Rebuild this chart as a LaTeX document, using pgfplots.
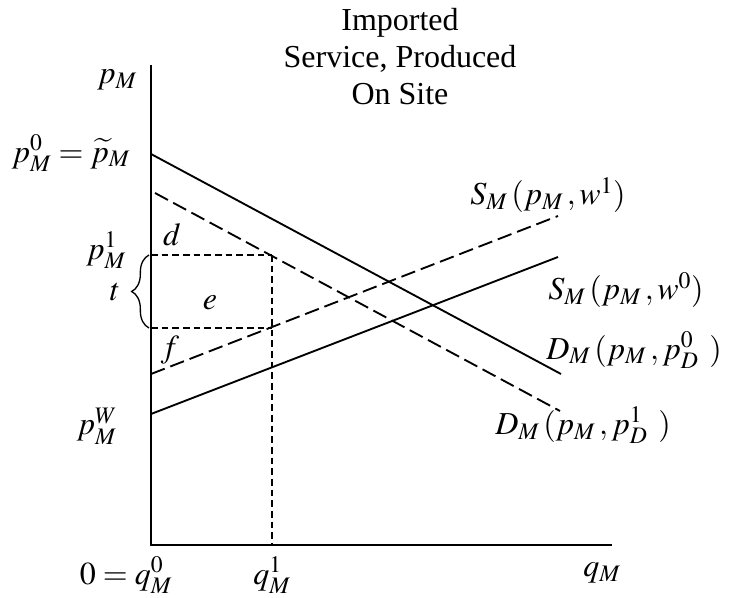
\documentclass[border=0pt]{standalone}
\usepackage{mathptmx}
\usepackage[no-math]{fontspec}
\setmainfont{Liberation Serif}
\usepackage{pgfplots}
\pgfplotsset{compat=1.18}
\usetikzlibrary{decorations.pathreplacing}
\tikzset{lab/.style={font=\fontsize{24}{28}\selectfont, inner sep=0pt}}

% 1 px of the reference = 0.75pt
\begin{document}
\begin{tikzpicture}
\path[use as bounding box] (0,0) rectangle (557.25pt,448.5pt);
\begin{axis}[
  at={(0,0)}, anchor=south west,
  scale only axis, width=557.25pt, height=448.5pt,
  xmin=0, xmax=743, ymin=0, ymax=598, y dir=reverse,
  hide axis, clip=false,
]
% axes
\addplot[black, line width=1.8pt] coordinates {(151,65)(151,545)(612,545)};
% demand curves
\addplot[black, line width=1.4pt] coordinates {(151,154)(561,374)};
\addplot[black, line width=1.4pt, dash pattern=on 11pt off 4.5pt] coordinates {(155,193)(560,411)};
% supply curves
\addplot[black, line width=1.4pt] coordinates {(151,414)(558,257)};
\addplot[black, line width=1.4pt, dash pattern=on 11pt off 4.5pt] coordinates {(151,374)(558,216)};
% price / quantity guides
\addplot[black, line width=1.4pt, dash pattern=on 5pt off 3pt] coordinates {(151,255)(272,255)};
\addplot[black, line width=1.4pt, dash pattern=on 5pt off 3pt] coordinates {(151,328)(272,328)};
\addplot[black, line width=1.4pt, dash pattern=on 5pt off 3pt] coordinates {(272,255)(272,545)};

\draw[line width=1pt, decorate, decoration={brace, amplitude=13pt}]
  (axis cs:149,328) -- (axis cs:149,255);

\node[align=center, font=\fontsize{24}{27.75}\selectfont] at (axis cs:400,57)
  {Imported\\Service, Produced\\On Site};

\node[lab] at (axis cs:117,80) {$p_M$};
\node[lab] at (axis cs:71,153) {$p_M^0=\widetilde{p}_M$};
\node[lab] at (axis cs:106,250) {$p_M^1$};
\node[lab] at (axis cs:97,426) {$p_M^W$};
\node[lab] at (axis cs:172,235) {$d$};
\node[lab] at (axis cs:115,292) {$t$};
\node[lab] at (axis cs:210,303) {$e$};
\node[lab] at (axis cs:170,350) {$f$};
\node[lab] at (axis cs:126,575) {$0=q_M^0$};
\node[lab] at (axis cs:272,575) {$q_M^1$};
\node[lab] at (axis cs:602,573) {$q_M$};
\node[lab] at (axis cs:548,195) {$S_M\,(p_M\,,w^1)$};
\node[lab] at (axis cs:626,290) {$S_M\,(p_M\,,w^0)$};
\node[lab] at (axis cs:634,350) {$D_M\,(p_M\,,p_D^0\;\,)$};
\node[lab] at (axis cs:583,425) {$D_M\,(p_M\,,p_D^1\;\,)$};
\end{axis}
\end{tikzpicture}
\end{document}
